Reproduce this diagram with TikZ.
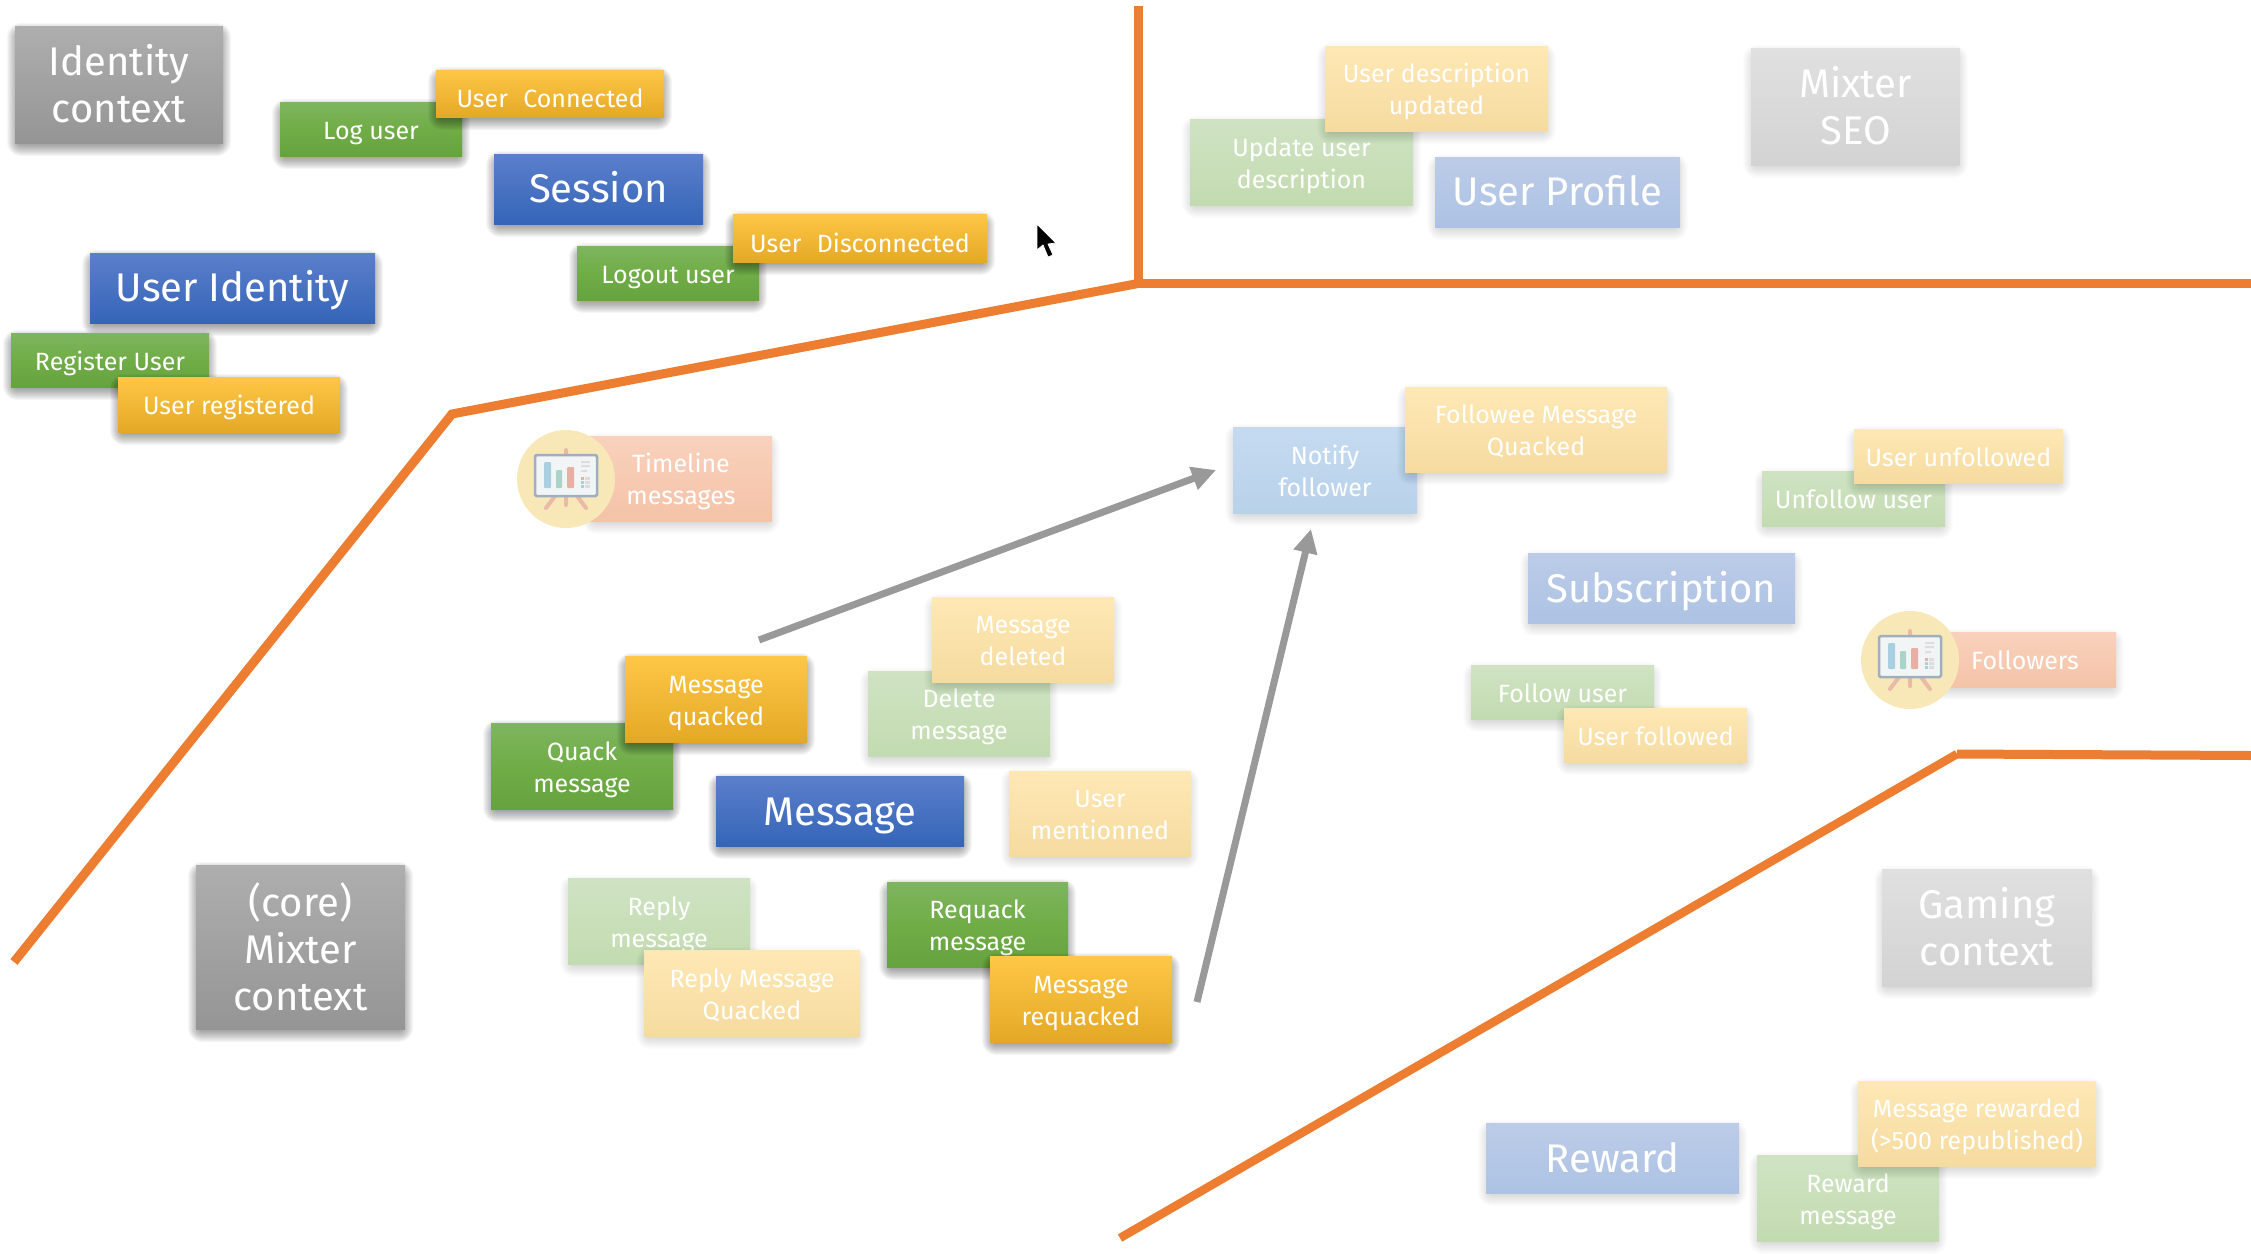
\documentclass[tikz,border=0pt]{standalone}
\usepackage{fontspec}
\setmainfont{Fira Sans}
\usetikzlibrary{arrows.meta}
\definecolor{orangeline}{HTML}{ED7D31}
\definecolor{arrowgrey}{HTML}{999999}
\tikzset{
  card/.style={inner sep=0pt,text=white,font=\fontsize{25}{32}\selectfont},
  bigcard/.style={card,font=\fontsize{40}{47}\selectfont},
  greenbox/.style={card,top color=7EB55F,bottom color=65A33E,middle color=70AD47},
  orangebox/.style={card,top color=FFC746,middle color=FFC030,bottom color=E3A826},
  bluebox/.style={bigcard,top color=5B7FCB,bottom color=3565B8},
  greybox/.style={bigcard,top color=AEAEAE,bottom color=959595},
  lgreenbox/.style={card,top color=CFE3C3,bottom color=C3DBB0},
  lorangebox/.style={card,top color=FFE8B5,middle color=FDE4A8,bottom color=F5DBA0},
  lbluebox/.style={bigcard,top color=BCCCE8,bottom color=ADC2E4},
  lgreybox/.style={bigcard,top color=E0E0E0,bottom color=D3D3D3},
  skybox/.style={card,top color=C5DAF0,bottom color=B8D2EA},
  salmonbox/.style={card,top color=F9D1BC,bottom color=F4C3A8},
  boundary/.style={draw=orangeline,line width=9pt},
  flow/.style={draw=arrowgrey,line width=7pt,-{Triangle[length=24pt,width=23pt]}},
  easel/.pic={
    \fill[F8E8B8] (0,0) circle (49);
    \draw[EAB9A8,line width=4pt,line cap=round] (0,-29) -- (0,26) (-11,17) -- (-20,29) (11,17) -- (20,29);
    \draw[9FB0BC,fill=F2F5F6,line width=2.5pt,rounded corners=1.5pt] (-31,-24) rectangle (31,17);
    \fill[A8D0E0,rounded corners=1pt] (-22,-17) rectangle (-15,9);
    \fill[A8D5C8,rounded corners=1pt] (-10,-9) rectangle (-4,9);
    \fill[E8AFA5,rounded corners=1pt] (1,-12) rectangle (8,9);
    \fill[DDDDDD] (15,-18) rectangle (24,-16) (15,-14) rectangle (24,-12) (15,-9) rectangle (21,-7);
    \fill[E8AFA5] (15,-2) rectangle (18,1);
    \fill[A8D5C8] (15,2) rectangle (18,5);
    \fill[A8D0E0] (15,6) rectangle (18,9);
    \fill[DDDDDD] (19,-2) rectangle (24,1) (19,2) rectangle (24,5) (19,6) rectangle (24,9);
  }
}
\newcounter{cardno}
% #1 drop of the text, #2 style, #3 shadow layer opacity, #4..#7 corners, #8 text
\newcommand\cardbody[8]{%
  \stepcounter{cardno}%
  \foreach \sg in {-5,...,8}{%
    \pgfmathsetmacro\sr{\sg+6}%
    \fill[black,opacity=#3,rounded corners=\sr pt] (#4-\sg,#5+5-\sg) rectangle (#6+\sg,#7+5+\sg);}%
  \pgfmathsetmacro\cardw{#6-#4}\pgfmathsetmacro\cardh{#7-#5}%
  \pgfmathsetmacro\cardx{(#4+#6)/2}\pgfmathsetmacro\cardy{(#5+#7)/2}%
  \node[#2,minimum width=\cardw pt,minimum height=\cardh pt] (card\arabic{cardno}) at (\cardx,\cardy)
    {\raisebox{-#1pt}[\height][\depth]{\begin{tabular}{@{}c@{}}#8\end{tabular}}};}
\newcommand\cardat[7][4]{\cardbody{#1}{#2}{.036}{#3}{#4}{#5}{#6}{#7}}
\newcommand\fadecard[7][4]{\cardbody{#1}{#2}{.011}{#3}{#4}{#5}{#6}{#7}}
\definecolor{F8E8B8}{HTML}{F8E8B8}
\definecolor{EAB9A8}{HTML}{EAB9A8}
\definecolor{9FB0BC}{HTML}{9FB0BC}
\definecolor{F2F5F6}{HTML}{F2F5F6}
\definecolor{A8D0E0}{HTML}{A8D0E0}
\definecolor{A8D5C8}{HTML}{A8D5C8}
\definecolor{E8AFA5}{HTML}{E8AFA5}
\definecolor{DDDDDD}{HTML}{DDDDDD}
\definecolor{7EB55F}{HTML}{7EB55F}
\definecolor{65A33E}{HTML}{65A33E}
\definecolor{70AD47}{HTML}{70AD47}
\definecolor{FFC746}{HTML}{FFC746}
\definecolor{FFC030}{HTML}{FFC030}
\definecolor{E3A826}{HTML}{E3A826}
\definecolor{5B7FCB}{HTML}{5B7FCB}
\definecolor{3565B8}{HTML}{3565B8}
\definecolor{AEAEAE}{HTML}{AEAEAE}
\definecolor{959595}{HTML}{959595}
\definecolor{CFE3C3}{HTML}{CFE3C3}
\definecolor{C3DBB0}{HTML}{C3DBB0}
\definecolor{FFE8B5}{HTML}{FFE8B5}
\definecolor{FDE4A8}{HTML}{FDE4A8}
\definecolor{F5DBA0}{HTML}{F5DBA0}
\definecolor{BCCCE8}{HTML}{BCCCE8}
\definecolor{ADC2E4}{HTML}{ADC2E4}
\definecolor{E0E0E0}{HTML}{E0E0E0}
\definecolor{D3D3D3}{HTML}{D3D3D3}
\definecolor{C5DAF0}{HTML}{C5DAF0}
\definecolor{B8D2EA}{HTML}{B8D2EA}
\definecolor{F9D1BC}{HTML}{F9D1BC}
\definecolor{F4C3A8}{HTML}{F4C3A8}
\begin{document}
\begin{tikzpicture}[x=1pt,y=-1pt]
\useasboundingbox (0,0) rectangle (2251,1253);
% boundaries
\coordinate (bt) at (1138,6);
\coordinate (bc) at (1138,283.5);
\coordinate (br) at (2251,283.5);
\coordinate (bm) at (452,414);
\coordinate (bl) at (14,962);
\coordinate (cc) at (1957,754);
\coordinate (cr) at (2251,755.5);
\coordinate (cl) at (1120,1238);
\draw[boundary] (bt) -- (bc) -- (br);
\draw[boundary] (bc) -- (bm) -- (bl);
\draw[boundary] (cc) -- (cr);
\draw[boundary,line width=8.5pt] (cc) -- (cl);
% identity
\cardat[5.5]{greybox}{15}{26}{223}{143}{Identity\\context}
\cardat{greenbox}{280}{102}{462}{156}{Log user}
\cardat[8]{orangebox}{436}{70}{664}{117}{User\hspace{.35em} Connected}
\cardat[4.5]{bluebox}{494}{154}{703}{224}{Session}
\cardat{greenbox}{577}{246}{759}{300}{Logout user}
\cardat[8]{orangebox}{733}{214}{987}{262}{User\hspace{.35em} Disconnected}
\cardat[4.5]{bluebox}{90}{253}{375}{323}{User Identity}
\cardat{greenbox}{11}{333}{209}{387}{Register User}
\cardat{orangebox}{118}{377}{340}{432}{User registered}
% profile
\fadecard{lgreenbox}{1190}{119}{1413}{205}{Update user\\description}
\fadecard{lorangebox}{1325}{46}{1548}{131}{User description\\updated}
\fadecard[4.5]{lbluebox}{1435}{157}{1680}{227}{User Profile}
\fadecard[5.5]{lgreybox}{1751}{48}{1960}{165}{Mixter\\SEO}
% core
\fadecard{salmonbox}{590}{436}{772}{521}{Timeline\\messages}
\pic at (566,479) {easel};
\fadecard{skybox}{1233}{427}{1417}{513}{Notify\\follower}
\fadecard{lorangebox}{1405}{387}{1667}{472}{Followee Message\\Quacked}
\fadecard{lgreenbox}{868}{671}{1050}{756}{Delete\\message}
\fadecard{lorangebox}{932}{597}{1114}{682}{Message\\deleted}
\cardat{greenbox}{491}{723}{673}{809}{Quack\\message}
\cardat{orangebox}{625}{656}{807}{742}{Message\\quacked}
\cardat[5]{bluebox}{716}{776}{964}{846}{Message}
\fadecard{lorangebox}{1009}{771}{1191}{856}{User\\mentionned}
\cardat[6.5]{greybox}{196}{865}{405}{1029}{(core)\\Mixter\\context}
\fadecard{lgreenbox}{568}{878}{750}{964}{Reply\\message}
\fadecard{lorangebox}{644}{950}{860}{1036}{Reply Message\\Quacked}
\cardat{greenbox}{887}{882}{1068}{967}{Requack\\message}
\cardat{orangebox}{990}{956}{1172}{1042}{Message\\requacked}
% subscription
\fadecard{lgreenbox}{1762}{471}{1945}{526}{Unfollow user}
\fadecard{lorangebox}{1854}{429}{2063}{483}{User unfollowed}
\fadecard[5.5]{lbluebox}{1528}{553}{1795}{623}{Subscription}
\fadecard{salmonbox}{1934}{632}{2116}{687}{Followers}
\pic at (1910,660) {easel};
\fadecard{lgreenbox}{1471}{665}{1654}{719}{Follow user}
\fadecard{lorangebox}{1564}{708}{1747}{762}{User followed}
% gaming
\fadecard[5.5]{lgreybox}{1882}{869}{2092}{986}{Gaming\\context}
\fadecard[5.5]{lbluebox}{1486}{1123}{1739}{1193}{Reward}
\fadecard{lgreenbox}{1757}{1155}{1939}{1241}{Reward\\message}
\fadecard{lorangebox}{1858}{1081}{2096}{1166}{Message rewarded\\(>500 republished)}
% flows
\coordinate (f1s) at (759,640);
\coordinate (f1e) at (1216,470);
\coordinate (f2s) at (1197,1002);
\coordinate (f2e) at (1311,529);
\draw[flow] (f1s) -- (f1e);
\draw[flow] (f2s) -- (f2e);
% pointer
\draw[fill=black,draw=white,line width=.8pt,line join=round] (1037,224) -- (1037,250) -- (1043,245) -- (1048,257) -- (1053,255) -- (1048,244) -- (1056,243) -- cycle;
\end{tikzpicture}
\end{document}
